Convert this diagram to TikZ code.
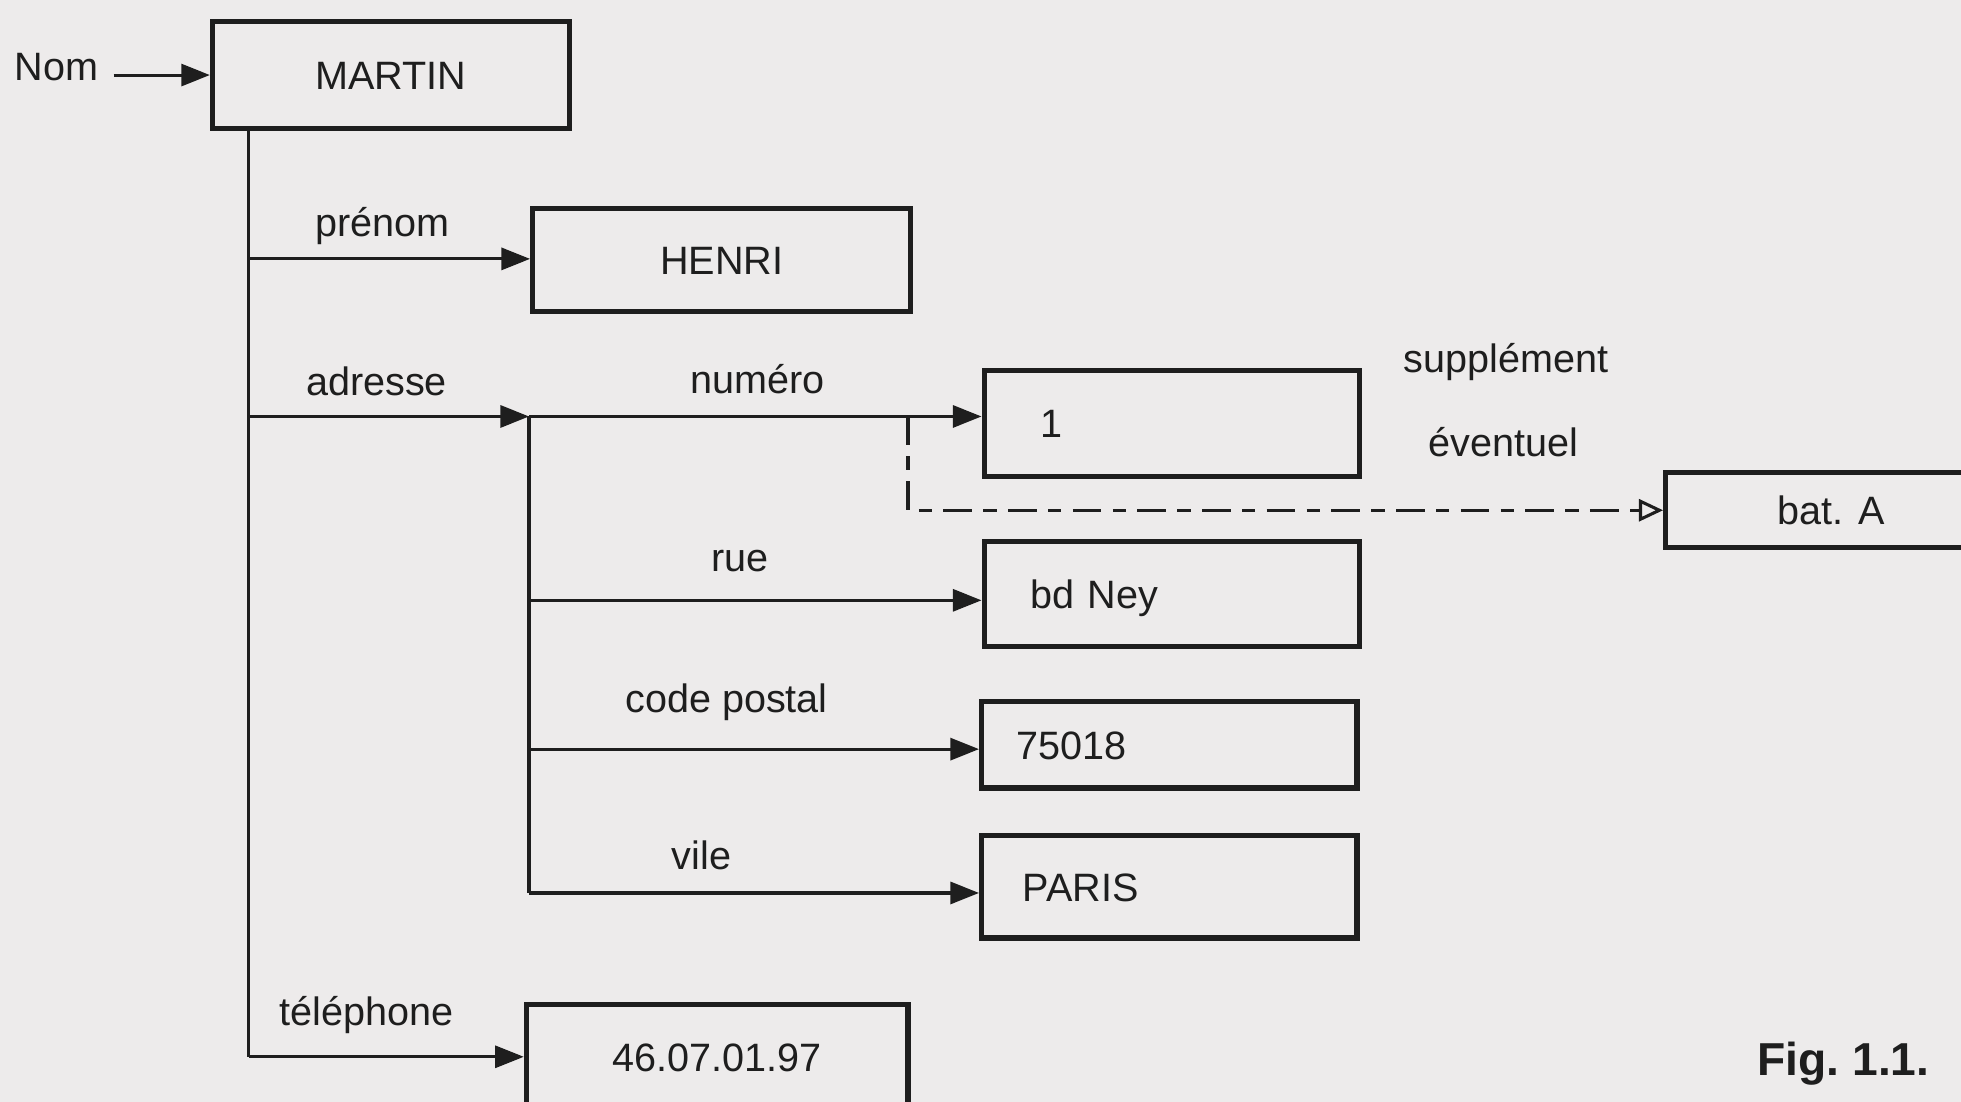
\documentclass[tikz,border=0pt]{standalone}
\usepackage{fontspec}
\setmainfont{Liberation Sans}
\usetikzlibrary{arrows.meta, positioning}
\definecolor{paper}{HTML}{EDEBEB}
\definecolor{ink}{HTML}{1E1E1E}

\begin{document}
\begin{tikzpicture}[
  x=0.01cm, y=-0.01cm,
  every node/.style={font=\fontsize{9}{11}\selectfont, color=ink},
  arrow/.style={-{Triangle[length=6.5pt, width=5pt]}, line width=0.7pt, color=ink},
  optarrow/.style={-{Triangle[open, length=5.5pt, width=5pt]}, line width=0.7pt, color=ink,
                   dash pattern=on 6.5pt off 2.6pt on 3pt off 2.6pt},
  field/.style={anchor=base},
  value/.style={draw=ink, line width=1.2pt, minimum width=3cm, minimum height=0.84cm,
                inner sep=0pt, text height=6.5pt, text depth=0pt},
  leftvalue/.style 2 args={value, inner xsep=#1, text width=#2, align=left},
]
  % Page
  \useasboundingbox[fill=paper] (0,0) rectangle (1568,881);
  \clip (0,0) rectangle (1568,881);

  % Record
  \node[field] (nom) at (45,64) {Nom};
  \node[value, minimum width=2.85cm, minimum height=0.86cm] (martin) at (312.5,60) {MARTIN};
  \node[value, minimum width=3.02cm, minimum height=0.82cm] (henri) at (577,208) {HENRI};
  \node[value, minimum width=3.05cm] (tel) at (573.5,845) {46.07.01.97};

  % Address
  \node[leftvalue={0.45cm}{2.1cm}, minimum height=0.85cm] (un) at (937,338.5) {1};
  \node[leftvalue={0.37cm}{2.26cm}] (ney) at (937,475) {bd Ney};
  \node[leftvalue={0.28cm}{2.44cm}, minimum height=0.69cm] (cp) at (935,595.5) {75018};
  \node[leftvalue={0.33cm}{2.34cm}, minimum height=0.82cm] (paris) at (935,709) {PARIS};
  \node[value, minimum width=2.64cm, minimum height=0.60cm] (bata) at (1464,408) {bat. A};

  % Field names
  \node[field] (lprenom) at (306,189) {prénom};
  \node[field] (ladresse) at (301,316) {adresse};
  \node[field] (lnumero) at (606,315) {numéro};
  \node[field] (lrue) at (592,457) {rue};
  \node[field] (lcode) at (581,570) {code postal};
  \node[field] (lvile) at (561,695) {vile};
  \node[field] (ltel) at (293,820) {téléphone};
  \node[field] (lsup) at (1204,298) {supplément};
  \node[field] (lev) at (1202,365) {éventuel};

  % Junctions
  \coordinate (jprenom) at (199,207);
  \coordinate (jadresse) at (199,333);
  \coordinate (jtel) at (199,845);
  \coordinate (sub) at (423,333);
  \coordinate (jrue) at (423,480);
  \coordinate (jcode) at (423,599);
  \coordinate (jvile) at (423,714);
  \coordinate (jopt) at (726,333);

  % Links
  \draw[arrow] (nom.east |- martin.west) -- (martin.west);
  \draw[line width=0.7pt, color=ink] (martin.south -| jtel) -- (jtel);
  \draw[arrow] (jprenom) -- (jprenom -| henri.west);
  \draw[arrow] (jadresse) -- (sub);
  \draw[arrow] (jtel) -- (jtel -| tel.west);
  \draw[line width=0.7pt, color=ink] (sub) -- (jvile);
  \draw[arrow] (sub) -- (sub -| un.west);
  \draw[arrow] (jrue) -- (jrue -| ney.west);
  \draw[arrow] (jcode) -- (jcode -| cp.west);
  \draw[arrow] (jvile) -- (jvile -| paris.west);
  \draw[optarrow] (jopt) |- (bata.west);

  % Caption
  \node[anchor=base, font=\fontsize{10.5}{12}\selectfont\bfseries] (fig) at (1474,860) {Fig.\ 1.1.};
\end{tikzpicture}
\end{document}
